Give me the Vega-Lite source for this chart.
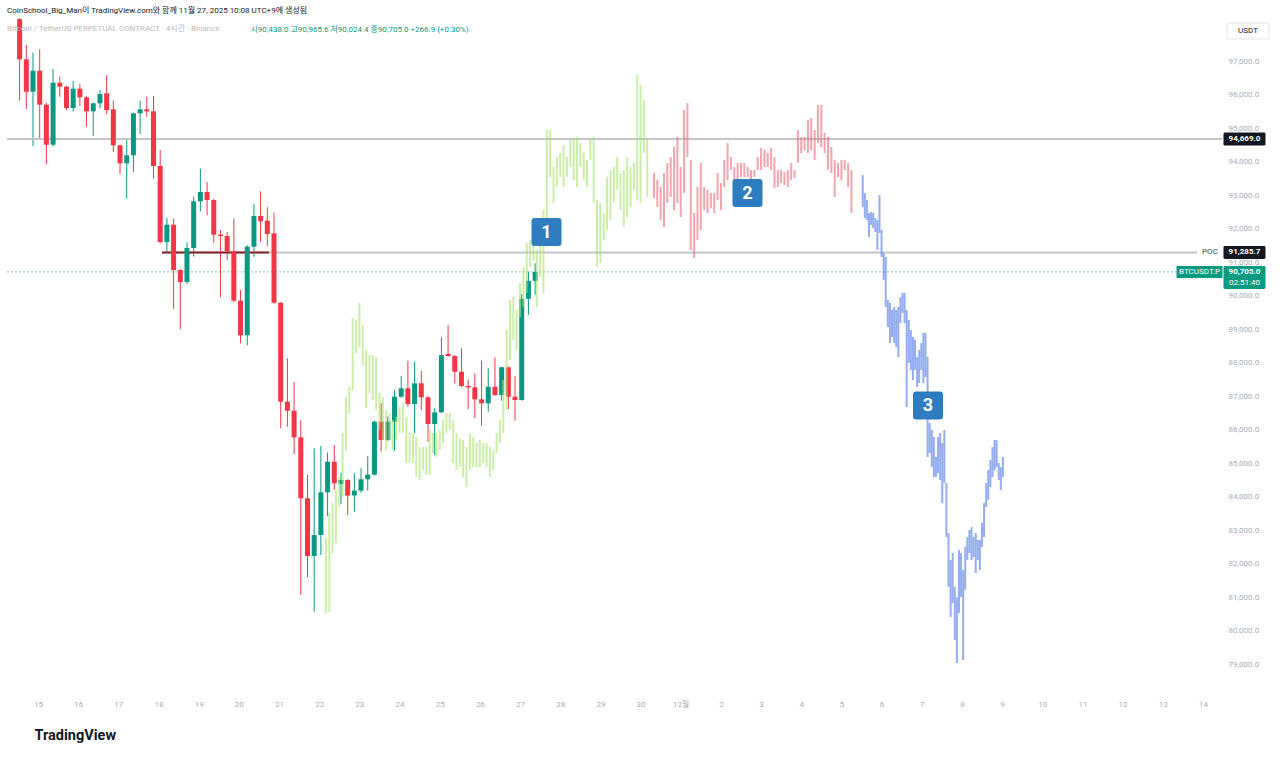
{
"$schema":"https://vega.github.io/schema/vega-lite/v6.json",
"width":1215,"height":677,
"autosize":{"type":"none"},
"padding":{"left":7,"top":18,"right":58,"bottom":62},
"background":"white",
"config":{"view":{"stroke":null},"font":"Roboto, Noto Sans CJK KR, sans-serif"},
"title":{"text":"CoinSchool_Big_Man이 TradingView.com와 함께 11월 27, 2025 10:08 UTC+9에 생성됨","subtitle":"\u00a0\u00a0Bitcoin / TetherUS PERPETUAL CONTRACT · 4시간 · Binance","anchor":"start","frame":"group","fontSize":8,"fontWeight":"normal","color":"#131722","subtitleFontSize":8,"subtitleColor":"#b8bbc2","subtitlePadding":10,"offset":-15},
"resolve":{"axis":{"y":"independent"}},
"datasets":{
"one":[{}],
"candles":[
{"t":"2025-11-14T13:00Z","o":98250,"h":98284,"l":95815,"c":97050},
{"t":"2025-11-14T17:00Z","o":97050,"h":97478,"l":95558,"c":96084},
{"t":"2025-11-14T21:00Z","o":96084,"h":97248,"l":94463,"c":96710},
{"t":"2025-11-15T01:00Z","o":96710,"h":97349,"l":94693,"c":95696},
{"t":"2025-11-15T05:00Z","o":95696,"h":95750,"l":93916,"c":94502},
{"t":"2025-11-15T09:00Z","o":94502,"h":96761,"l":94450,"c":96352},
{"t":"2025-11-15T13:00Z","o":96352,"h":96531,"l":95934,"c":96233},
{"t":"2025-11-15T17:00Z","o":96233,"h":96260,"l":95537,"c":95597},
{"t":"2025-11-15T21:00Z","o":95597,"h":96412,"l":95498,"c":96173},
{"t":"2025-11-16T01:00Z","o":96173,"h":96313,"l":95657,"c":95916},
{"t":"2025-11-16T05:00Z","o":95916,"h":95950,"l":95039,"c":95498},
{"t":"2025-11-16T09:00Z","o":95498,"h":95760,"l":94761,"c":95737},
{"t":"2025-11-16T13:00Z","o":95737,"h":96134,"l":95576,"c":96015},
{"t":"2025-11-16T17:00Z","o":96035,"h":96573,"l":95418,"c":95537},
{"t":"2025-11-16T21:00Z","o":95558,"h":95815,"l":94284,"c":94484},
{"t":"2025-11-17T01:00Z","o":94484,"h":94500,"l":93627,"c":93946},
{"t":"2025-11-17T05:00Z","o":93946,"h":94663,"l":92890,"c":94185},
{"t":"2025-11-17T09:00Z","o":94185,"h":95460,"l":93687,"c":95439},
{"t":"2025-11-17T13:00Z","o":95439,"h":95815,"l":94821,"c":95558},
{"t":"2025-11-17T17:00Z","o":95558,"h":95934,"l":95337,"c":95498},
{"t":"2025-11-17T21:00Z","o":95498,"h":95955,"l":93487,"c":93866},
{"t":"2025-11-18T01:00Z","o":93866,"h":94343,"l":91550,"c":91597},
{"t":"2025-11-18T05:00Z","o":91597,"h":92314,"l":91299,"c":92114},
{"t":"2025-11-18T09:00Z","o":92114,"h":92293,"l":89606,"c":90761},
{"t":"2025-11-18T13:00Z","o":90761,"h":90790,"l":88991,"c":90403},
{"t":"2025-11-18T17:00Z","o":90403,"h":91597,"l":90350,"c":91418},
{"t":"2025-11-18T21:00Z","o":91418,"h":92950,"l":91159,"c":92812},
{"t":"2025-11-19T01:00Z","o":92812,"h":93785,"l":92513,"c":93090},
{"t":"2025-11-19T05:00Z","o":93090,"h":93388,"l":92394,"c":92851},
{"t":"2025-11-19T09:00Z","o":92851,"h":92880,"l":91576,"c":91815},
{"t":"2025-11-19T13:00Z","o":91815,"h":91955,"l":89946,"c":91776},
{"t":"2025-11-19T17:00Z","o":91776,"h":91896,"l":91060,"c":91319},
{"t":"2025-11-19T21:00Z","o":91319,"h":92293,"l":89800,"c":89845},
{"t":"2025-11-20T01:00Z","o":89845,"h":90164,"l":88573,"c":88812},
{"t":"2025-11-20T05:00Z","o":88812,"h":91500,"l":88513,"c":91457},
{"t":"2025-11-20T09:00Z","o":91457,"h":92731,"l":91159,"c":92373},
{"t":"2025-11-20T13:00Z","o":92373,"h":93110,"l":91597,"c":92215},
{"t":"2025-11-20T17:00Z","o":92233,"h":92633,"l":91478,"c":91836},
{"t":"2025-11-20T21:00Z","o":91855,"h":92472,"l":89750,"c":89785},
{"t":"2025-11-21T01:00Z","o":89785,"h":89800,"l":86036,"c":86830},
{"t":"2025-11-21T05:00Z","o":86830,"h":88125,"l":86084,"c":86561},
{"t":"2025-11-21T09:00Z","o":86561,"h":87418,"l":85269,"c":85767},
{"t":"2025-11-21T13:00Z","o":85767,"h":86284,"l":81060,"c":83947},
{"t":"2025-11-21T17:00Z","o":83947,"h":84642,"l":81588,"c":82224},
{"t":"2025-11-21T21:00Z","o":82224,"h":85439,"l":80562,"c":82851},
{"t":"2025-11-22T01:00Z","o":82851,"h":85508,"l":82254,"c":84125},
{"t":"2025-11-22T05:00Z","o":84125,"h":85309,"l":83418,"c":85040},
{"t":"2025-11-22T09:00Z","o":85040,"h":85538,"l":84194,"c":84394},
{"t":"2025-11-22T13:00Z","o":84374,"h":84712,"l":83776,"c":84493},
{"t":"2025-11-22T17:00Z","o":84493,"h":84520,"l":83448,"c":84030},
{"t":"2025-11-22T21:00Z","o":84030,"h":84692,"l":83547,"c":84174},
{"t":"2025-11-23T01:00Z","o":84174,"h":84842,"l":84114,"c":84514},
{"t":"2025-11-23T05:00Z","o":84514,"h":85209,"l":84174,"c":84652},
{"t":"2025-11-23T09:00Z","o":84652,"h":86260,"l":84630,"c":86233},
{"t":"2025-11-23T13:00Z","o":86233,"h":86782,"l":85339,"c":85687},
{"t":"2025-11-23T17:00Z","o":85687,"h":86383,"l":85660,"c":86233},
{"t":"2025-11-23T21:00Z","o":86233,"h":87179,"l":85369,"c":86980},
{"t":"2025-11-24T01:00Z","o":86980,"h":87597,"l":86950,"c":87230},
{"t":"2025-11-24T05:00Z","o":87230,"h":88054,"l":86681,"c":86761},
{"t":"2025-11-24T09:00Z","o":86761,"h":88025,"l":85887,"c":87379},
{"t":"2025-11-24T13:00Z","o":87379,"h":87755,"l":86582,"c":86961},
{"t":"2025-11-24T17:00Z","o":86961,"h":86990,"l":85637,"c":86164},
{"t":"2025-11-24T21:00Z","o":86164,"h":86632,"l":85239,"c":86513},
{"t":"2025-11-25T01:00Z","o":86513,"h":88752,"l":86490,"c":88224},
{"t":"2025-11-25T05:00Z","o":88254,"h":89119,"l":88170,"c":88194},
{"t":"2025-11-25T09:00Z","o":88194,"h":88220,"l":87379,"c":87725},
{"t":"2025-11-25T13:00Z","o":87725,"h":88424,"l":87260,"c":87299},
{"t":"2025-11-25T17:00Z","o":87299,"h":87498,"l":86603,"c":87260},
{"t":"2025-11-25T21:00Z","o":87260,"h":87678,"l":86334,"c":86902},
{"t":"2025-11-26T01:00Z","o":86902,"h":88054,"l":86105,"c":86782},
{"t":"2025-11-26T05:00Z","o":86782,"h":87827,"l":86532,"c":87278},
{"t":"2025-11-26T09:00Z","o":87278,"h":88155,"l":87000,"c":87030},
{"t":"2025-11-26T13:00Z","o":87030,"h":87880,"l":86860,"c":87857},
{"t":"2025-11-26T17:00Z","o":87857,"h":87880,"l":86603,"c":86980},
{"t":"2025-11-26T21:00Z","o":86980,"h":87597,"l":86263,"c":86881},
{"t":"2025-11-27T01:00Z","o":86881,"h":90045,"l":86860,"c":89901},
{"t":"2025-11-27T05:00Z","o":89901,"h":90711,"l":89418,"c":90438},
{"t":"2025-11-27T09:00Z","o":90438,"h":90965.6,"l":90024.4,"c":90705}
],
"ghost":[
{"g":"A","t":"2025-11-22T04:00Z","h":82762,"l":80523},
{"g":"A","t":"2025-11-22T06:00Z","h":83508,"l":80553},
{"g":"A","t":"2025-11-22T08:00Z","h":83806,"l":82314},
{"g":"A","t":"2025-11-22T10:00Z","h":84194,"l":82612},
{"g":"A","t":"2025-11-22T12:00Z","h":84583,"l":83687},
{"g":"A","t":"2025-11-22T14:00Z","h":85896,"l":83986},
{"g":"A","t":"2025-11-22T16:00Z","h":86971,"l":85388},
{"g":"A","t":"2025-11-22T18:00Z","h":87269,"l":86493},
{"g":"A","t":"2025-11-22T20:00Z","h":89329,"l":87179},
{"g":"A","t":"2025-11-22T22:00Z","h":89269,"l":88284},
{"g":"A","t":"2025-11-23T00:00Z","h":89776,"l":88463},
{"g":"A","t":"2025-11-23T02:00Z","h":89120,"l":87926},
{"g":"A","t":"2025-11-23T04:00Z","h":88373,"l":86642},
{"g":"A","t":"2025-11-23T06:00Z","h":88224,"l":87090},
{"g":"A","t":"2025-11-23T08:00Z","h":88224,"l":86881},
{"g":"A","t":"2025-11-23T10:00Z","h":88165,"l":86582},
{"g":"A","t":"2025-11-23T12:00Z","h":87090,"l":85985},
{"g":"A","t":"2025-11-23T14:00Z","h":86971,"l":85687},
{"g":"A","t":"2025-11-23T16:00Z","h":86582,"l":85388},
{"g":"A","t":"2025-11-23T18:00Z","h":86493,"l":85687},
{"g":"A","t":"2025-11-23T20:00Z","h":86284,"l":85388},
{"g":"A","t":"2025-11-23T22:00Z","h":86374,"l":85687},
{"g":"A","t":"2025-11-24T00:00Z","h":86672,"l":85896},
{"g":"A","t":"2025-11-24T02:00Z","h":86791,"l":85896},
{"g":"A","t":"2025-11-24T04:00Z","h":86374,"l":85000},
{"g":"A","t":"2025-11-24T06:00Z","h":85896,"l":85000},
{"g":"A","t":"2025-11-24T08:00Z","h":85896,"l":85000},
{"g":"A","t":"2025-11-24T10:00Z","h":85777,"l":84583},
{"g":"A","t":"2025-11-24T12:00Z","h":85478,"l":84493},
{"g":"A","t":"2025-11-24T14:00Z","h":85478,"l":84791},
{"g":"A","t":"2025-11-24T16:00Z","h":85478,"l":84642},
{"g":"A","t":"2025-11-24T18:00Z","h":85985,"l":84642},
{"g":"A","t":"2025-11-24T20:00Z","h":85896,"l":85299},
{"g":"A","t":"2025-11-24T22:00Z","h":85896,"l":85180},
{"g":"A","t":"2025-11-25T00:00Z","h":85985,"l":85388},
{"g":"A","t":"2025-11-25T02:00Z","h":86284,"l":85597},
{"g":"A","t":"2025-11-25T04:00Z","h":86493,"l":85896},
{"g":"A","t":"2025-11-25T06:00Z","h":86493,"l":85985},
{"g":"A","t":"2025-11-25T08:00Z","h":86284,"l":85000},
{"g":"A","t":"2025-11-25T10:00Z","h":85896,"l":84791},
{"g":"A","t":"2025-11-25T12:00Z","h":85747,"l":84881},
{"g":"A","t":"2025-11-25T14:00Z","h":85687,"l":84583},
{"g":"A","t":"2025-11-25T16:00Z","h":85478,"l":84284},
{"g":"A","t":"2025-11-25T18:00Z","h":85896,"l":84791},
{"g":"A","t":"2025-11-25T20:00Z","h":85777,"l":84881},
{"g":"A","t":"2025-11-25T22:00Z","h":85597,"l":84881},
{"g":"A","t":"2025-11-26T00:00Z","h":85687,"l":84881},
{"g":"A","t":"2025-11-26T02:00Z","h":85597,"l":85000},
{"g":"A","t":"2025-11-26T04:00Z","h":85597,"l":84881},
{"g":"A","t":"2025-11-26T06:00Z","h":85478,"l":84583},
{"g":"A","t":"2025-11-26T08:00Z","h":85388,"l":84791},
{"g":"A","t":"2025-11-26T10:00Z","h":85896,"l":85299},
{"g":"A","t":"2025-11-26T12:00Z","h":86284,"l":85597},
{"g":"A","t":"2025-11-26T14:00Z","h":87478,"l":85896},
{"g":"A","t":"2025-11-26T16:00Z","h":88970,"l":86582},
{"g":"A","t":"2025-11-26T18:00Z","h":89866,"l":88075},
{"g":"A","t":"2025-11-26T20:00Z","h":89956,"l":88672},
{"g":"A","t":"2025-11-26T22:00Z","h":89567,"l":88373},
{"g":"A","t":"2025-11-27T00:00Z","h":90373,"l":89359},
{"g":"A","t":"2025-11-27T02:00Z","h":90851,"l":89657},
{"g":"A","t":"2025-11-27T04:00Z","h":91567,"l":90075},
{"g":"A","t":"2025-11-27T06:00Z","h":91657,"l":90851},
{"g":"A","t":"2025-11-27T08:00Z","h":91955,"l":91060},
{"g":"A","t":"2025-11-27T10:00Z","h":91358,"l":89657},
{"g":"A","t":"2025-11-27T12:00Z","h":92164,"l":90553},
{"g":"A","t":"2025-11-27T14:00Z","h":92552,"l":90075},
{"g":"A","t":"2025-11-27T16:00Z","h":94940,"l":91657},
{"g":"A","t":"2025-11-27T18:00Z","h":94940,"l":93538},
{"g":"A","t":"2025-11-27T20:00Z","h":93836,"l":92761},
{"g":"A","t":"2025-11-27T22:00Z","h":94135,"l":93239},
{"g":"A","t":"2025-11-28T00:00Z","h":94254,"l":93538},
{"g":"A","t":"2025-11-28T02:00Z","h":94493,"l":93239},
{"g":"A","t":"2025-11-28T04:00Z","h":94135,"l":93538},
{"g":"A","t":"2025-11-28T06:00Z","h":94642,"l":93836},
{"g":"A","t":"2025-11-28T08:00Z","h":94702,"l":93448},
{"g":"A","t":"2025-11-28T10:00Z","h":94732,"l":93239},
{"g":"A","t":"2025-11-28T12:00Z","h":94552,"l":93836},
{"g":"A","t":"2025-11-28T14:00Z","h":94254,"l":93448},
{"g":"A","t":"2025-11-28T16:00Z","h":94045,"l":93239},
{"g":"A","t":"2025-11-28T18:00Z","h":94702,"l":94045},
{"g":"A","t":"2025-11-28T20:00Z","h":94732,"l":92761},
{"g":"A","t":"2025-11-28T22:00Z","h":92851,"l":90851},
{"g":"A","t":"2025-11-29T00:00Z","h":92761,"l":90970},
{"g":"A","t":"2025-11-29T02:00Z","h":92463,"l":91657},
{"g":"A","t":"2025-11-29T04:00Z","h":93538,"l":91955},
{"g":"A","t":"2025-11-29T06:00Z","h":93746,"l":92254},
{"g":"A","t":"2025-11-29T08:00Z","h":93836,"l":92761},
{"g":"A","t":"2025-11-29T10:00Z","h":94135,"l":93149},
{"g":"A","t":"2025-11-29T12:00Z","h":93657,"l":92552},
{"g":"A","t":"2025-11-29T14:00Z","h":93746,"l":92045},
{"g":"A","t":"2025-11-29T16:00Z","h":94135,"l":92344},
{"g":"A","t":"2025-11-29T18:00Z","h":93836,"l":92642},
{"g":"A","t":"2025-11-29T20:00Z","h":93955,"l":93149},
{"g":"A","t":"2025-11-29T22:00Z","h":96582,"l":92851},
{"g":"A","t":"2025-11-30T00:00Z","h":96284,"l":92761},
{"g":"A","t":"2025-11-30T02:00Z","h":95836,"l":94254},
{"g":"A","t":"2025-11-30T04:00Z","h":94642,"l":92941},
{"g":"B","t":"2025-11-30T08:00Z","h":93657,"l":92911},
{"g":"B","t":"2025-11-30T10:00Z","h":93448,"l":92642},
{"g":"B","t":"2025-11-30T12:00Z","h":93239,"l":92254},
{"g":"B","t":"2025-11-30T14:00Z","h":93657,"l":92045},
{"g":"B","t":"2025-11-30T16:00Z","h":93955,"l":92761},
{"g":"B","t":"2025-11-30T18:00Z","h":94135,"l":92941},
{"g":"B","t":"2025-11-30T20:00Z","h":94433,"l":92552},
{"g":"B","t":"2025-11-30T22:00Z","h":94732,"l":92761},
{"g":"B","t":"2025-12-01T00:00Z","h":93836,"l":92344},
{"g":"B","t":"2025-12-01T02:00Z","h":95537,"l":93060},
{"g":"B","t":"2025-12-01T04:00Z","h":95746,"l":94135},
{"g":"B","t":"2025-12-01T06:00Z","h":94045,"l":91358},
{"g":"B","t":"2025-12-01T08:00Z","h":92463,"l":91120},
{"g":"B","t":"2025-12-01T10:00Z","h":93239,"l":91657},
{"g":"B","t":"2025-12-01T12:00Z","h":93955,"l":91955},
{"g":"B","t":"2025-12-01T14:00Z","h":93239,"l":92552},
{"g":"B","t":"2025-12-01T16:00Z","h":93149,"l":92463},
{"g":"B","t":"2025-12-01T18:00Z","h":93060,"l":92612},
{"g":"B","t":"2025-12-01T20:00Z","h":93060,"l":92463},
{"g":"B","t":"2025-12-01T22:00Z","h":93657,"l":92851},
{"g":"B","t":"2025-12-02T00:00Z","h":93358,"l":92552},
{"g":"B","t":"2025-12-02T02:00Z","h":94045,"l":93239},
{"g":"B","t":"2025-12-02T04:00Z","h":94552,"l":93448},
{"g":"B","t":"2025-12-02T06:00Z","h":94135,"l":93746},
{"g":"B","t":"2025-12-02T08:00Z","h":93836,"l":93358},
{"g":"B","t":"2025-12-02T10:00Z","h":93955,"l":93448},
{"g":"B","t":"2025-12-02T12:00Z","h":93955,"l":93538},
{"g":"B","t":"2025-12-02T14:00Z","h":93955,"l":93538},
{"g":"B","t":"2025-12-02T16:00Z","h":93836,"l":93538},
{"g":"B","t":"2025-12-02T18:00Z","h":93746,"l":93448},
{"g":"B","t":"2025-12-02T20:00Z","h":93746,"l":93538},
{"g":"B","t":"2025-12-02T22:00Z","h":94135,"l":93746},
{"g":"B","t":"2025-12-03T00:00Z","h":94403,"l":93746},
{"g":"B","t":"2025-12-03T02:00Z","h":94343,"l":93836},
{"g":"B","t":"2025-12-03T04:00Z","h":94254,"l":93836},
{"g":"B","t":"2025-12-03T06:00Z","h":94403,"l":93746},
{"g":"B","t":"2025-12-03T08:00Z","h":94135,"l":93209},
{"g":"B","t":"2025-12-03T10:00Z","h":93746,"l":93239},
{"g":"B","t":"2025-12-03T12:00Z","h":93746,"l":93358},
{"g":"B","t":"2025-12-03T14:00Z","h":93687,"l":93299},
{"g":"B","t":"2025-12-03T16:00Z","h":93746,"l":93239},
{"g":"B","t":"2025-12-03T18:00Z","h":93955,"l":93448},
{"g":"B","t":"2025-12-03T20:00Z","h":93746,"l":93508},
{"g":"B","t":"2025-12-03T22:00Z","h":94940,"l":93955},
{"g":"B","t":"2025-12-04T00:00Z","h":94732,"l":94254},
{"g":"B","t":"2025-12-04T02:00Z","h":94732,"l":94343},
{"g":"B","t":"2025-12-04T04:00Z","h":95239,"l":94254},
{"g":"B","t":"2025-12-04T06:00Z","h":95299,"l":94343},
{"g":"B","t":"2025-12-04T08:00Z","h":94940,"l":94045},
{"g":"B","t":"2025-12-04T10:00Z","h":95687,"l":94552},
{"g":"B","t":"2025-12-04T12:00Z","h":95687,"l":94433},
{"g":"B","t":"2025-12-04T14:00Z","h":94851,"l":94254},
{"g":"B","t":"2025-12-04T16:00Z","h":94732,"l":93746},
{"g":"B","t":"2025-12-04T18:00Z","h":94433,"l":93657},
{"g":"B","t":"2025-12-04T20:00Z","h":94045,"l":92941},
{"g":"B","t":"2025-12-04T22:00Z","h":93955,"l":93538},
{"g":"B","t":"2025-12-05T00:00Z","h":94045,"l":93448},
{"g":"B","t":"2025-12-05T02:00Z","h":94045,"l":93746},
{"g":"B","t":"2025-12-05T04:00Z","h":93955,"l":93239},
{"g":"B","t":"2025-12-05T06:00Z","h":93746,"l":92463},
{"g":"C","t":"2025-12-05T12:45Z","h":93597,"l":92642},
{"g":"C","t":"2025-12-05T14:00Z","h":93060,"l":92314},
{"g":"C","t":"2025-12-05T15:15Z","h":92851,"l":92254},
{"g":"C","t":"2025-12-05T16:30Z","h":92463,"l":91747},
{"g":"C","t":"2025-12-05T17:45Z","h":92493,"l":92105},
{"g":"C","t":"2025-12-05T19:00Z","h":92463,"l":92015},
{"g":"C","t":"2025-12-05T20:15Z","h":92314,"l":91896},
{"g":"C","t":"2025-12-05T21:30Z","h":92254,"l":91358},
{"g":"C","t":"2025-12-05T22:45Z","h":93000,"l":91866},
{"g":"C","t":"2025-12-06T00:00Z","h":91955,"l":91150},
{"g":"C","t":"2025-12-06T01:15Z","h":91269,"l":90463},
{"g":"C","t":"2025-12-06T02:30Z","h":91150,"l":89657},
{"g":"C","t":"2025-12-06T03:45Z","h":89866,"l":89060},
{"g":"C","t":"2025-12-06T05:00Z","h":89776,"l":88582},
{"g":"C","t":"2025-12-06T06:15Z","h":89567,"l":88762},
{"g":"C","t":"2025-12-06T07:30Z","h":89657,"l":88582},
{"g":"C","t":"2025-12-06T08:45Z","h":89567,"l":88463},
{"g":"C","t":"2025-12-06T10:00Z","h":89657,"l":88165},
{"g":"C","t":"2025-12-06T11:15Z","h":89956,"l":89179},
{"g":"C","t":"2025-12-06T12:30Z","h":90075,"l":89478},
{"g":"C","t":"2025-12-06T13:45Z","h":90075,"l":89179},
{"g":"C","t":"2025-12-06T15:00Z","h":89567,"l":86672},
{"g":"C","t":"2025-12-06T16:15Z","h":89269,"l":87985},
{"g":"C","t":"2025-12-06T17:30Z","h":88970,"l":87776},
{"g":"C","t":"2025-12-06T18:45Z","h":88762,"l":87478},
{"g":"C","t":"2025-12-06T20:00Z","h":88672,"l":87776},
{"g":"C","t":"2025-12-06T21:15Z","h":88165,"l":87269},
{"g":"C","t":"2025-12-06T22:30Z","h":88373,"l":87388},
{"g":"C","t":"2025-12-06T23:45Z","h":88582,"l":87776},
{"g":"C","t":"2025-12-07T01:00Z","h":88881,"l":87388},
{"g":"C","t":"2025-12-07T02:15Z","h":88881,"l":87568},
{"g":"C","t":"2025-12-07T03:30Z","h":88165,"l":85180},
{"g":"C","t":"2025-12-07T04:45Z","h":86194,"l":85299},
{"g":"C","t":"2025-12-07T06:00Z","h":85985,"l":84881},
{"g":"C","t":"2025-12-07T07:15Z","h":85777,"l":84583},
{"g":"C","t":"2025-12-07T08:30Z","h":85180,"l":84583},
{"g":"C","t":"2025-12-07T09:45Z","h":85777,"l":84702},
{"g":"C","t":"2025-12-07T11:00Z","h":85896,"l":84493},
{"g":"C","t":"2025-12-07T12:15Z","h":85597,"l":83806},
{"g":"C","t":"2025-12-07T13:30Z","h":85985,"l":84403},
{"g":"C","t":"2025-12-07T14:45Z","h":84403,"l":82792},
{"g":"C","t":"2025-12-07T16:00Z","h":82911,"l":81299},
{"g":"C","t":"2025-12-07T17:15Z","h":82105,"l":80404},
{"g":"C","t":"2025-12-07T18:30Z","h":82314,"l":80822},
{"g":"C","t":"2025-12-07T19:45Z","h":81299,"l":79717},
{"g":"C","t":"2025-12-07T21:00Z","h":81001,"l":79030},
{"g":"C","t":"2025-12-07T22:15Z","h":82403,"l":80523},
{"g":"C","t":"2025-12-07T23:30Z","h":82314,"l":81001},
{"g":"C","t":"2025-12-08T00:45Z","h":81806,"l":79120},
{"g":"C","t":"2025-12-08T02:00Z","h":82493,"l":81209},
{"g":"C","t":"2025-12-08T03:15Z","h":82792,"l":82105},
{"g":"C","t":"2025-12-08T04:30Z","h":83000,"l":82314},
{"g":"C","t":"2025-12-08T05:45Z","h":83090,"l":82105},
{"g":"C","t":"2025-12-08T07:00Z","h":82792,"l":82195},
{"g":"C","t":"2025-12-08T08:15Z","h":82911,"l":81717},
{"g":"C","t":"2025-12-08T09:30Z","h":82702,"l":82105},
{"g":"C","t":"2025-12-08T10:45Z","h":82702,"l":81806},
{"g":"C","t":"2025-12-08T12:00Z","h":83209,"l":82493},
{"g":"C","t":"2025-12-08T13:15Z","h":83806,"l":82792},
{"g":"C","t":"2025-12-08T14:30Z","h":84403,"l":83687},
{"g":"C","t":"2025-12-08T15:45Z","h":84791,"l":83896},
{"g":"C","t":"2025-12-08T17:00Z","h":85090,"l":84284},
{"g":"C","t":"2025-12-08T18:15Z","h":85478,"l":84583},
{"g":"C","t":"2025-12-08T19:30Z","h":85687,"l":84791},
{"g":"C","t":"2025-12-08T20:45Z","h":85687,"l":84881},
{"g":"C","t":"2025-12-08T22:00Z","h":85000,"l":84493},
{"g":"C","t":"2025-12-08T23:15Z","h":84881,"l":84194},
{"g":"C","t":"2025-12-09T00:30Z","h":85180,"l":84583}
],
"notes":[
{"n":"1","t":"2025-11-27T15:49Z","p":91896},
{"n":"2","t":"2025-12-02T15:53Z","p":93060},
{"n":"3","t":"2025-12-07T03:44Z","p":86717}
]
},
"layer":[
{"data":{"name":"candles"},
 "mark":{"type":"rule","strokeWidth":1},
 "encoding":{
  "x":{"field":"t","type":"temporal","axis":null},
  "y":{"field":"l","type":"quantitative","scale":{"domain":[78075,98284],"nice":false,"zero":false,"padding":0},
   "axis":{"orient":"right","tickCount":20,"format":",.1f","labelExpr":"datum.value > 97500 ? '' : datum.label","ticks":false,"domain":false,"grid":false,"labelColor":"#a9acb4","labelFontSize":8,"labelPadding":6,"labelAlign":"left","labelBaseline":"middle","title":""}},
  "y2":{"field":"h"},
  "color":{"condition":{"test":"datum.c >= datum.o","value":"#089981"},"value":"#f23645"}}},
{"data":{"name":"one"},"mark":{"type":"rule","color":"#c3c5cb","strokeWidth":2},
 "encoding":{"y":{"datum":94669,"type":"quantitative","axis":null}}},
{"data":{"name":"one"},"mark":{"type":"rule","color":"#c3c5cb","strokeWidth":2},
 "encoding":{"x":{"datum":{"year":2025,"month":11,"date":18,"hours":2,"minutes":5,"utc":true},"type":"temporal","axis":null},
  "x2":{"datum":{"year":2025,"month":12,"date":13,"hours":20,"minutes":30,"utc":true}},
  "y":{"datum":91285.7,"type":"quantitative","axis":null}}},
{"data":{"name":"one"},"mark":{"type":"rule","color":"#8e1f22","strokeWidth":2},
 "encoding":{"x":{"datum":{"year":2025,"month":11,"date":18,"hours":2,"minutes":5,"utc":true},"type":"temporal","axis":null},
  "x2":{"datum":{"year":2025,"month":11,"date":20,"hours":18,"minutes":0,"utc":true}},
  "y":{"datum":91285.7,"type":"quantitative","axis":null}}},
{"data":{"name":"one"},"mark":{"type":"rule","color":"#089981","strokeWidth":1,"opacity":0.55,"strokeDash":[2,2]},
 "encoding":{"x":{"datum":{"year":2025,"month":11,"date":14,"hours":5,"minutes":28,"utc":true},"type":"temporal","axis":null},
  "x2":{"datum":{"year":2025,"month":12,"date":13,"hours":7,"minutes":55,"utc":true}},
  "y":{"datum":90705,"type":"quantitative","axis":null}}},
{"data":{"name":"candles"},
 "mark":{"type":"bar","size":5},
 "encoding":{
  "x":{"field":"t","type":"temporal","scale":{"type":"utc","padding":0,"domain":[{"year":2025,"month":11,"date":14,"hours":5,"minutes":28,"utc":true},{"year":2025,"month":12,"date":14,"hours":11,"minutes":24,"utc":true}]},
   "axis":{"orient":"bottom","tickCount":{"interval":"day","step":1},"labelExpr":"utcdate(datum.value) == 1 ? '12월' : utcFormat(datum.value, '%-d')","ticks":false,"domain":false,"grid":false,"labelColor":"#a9acb4","labelFontSize":8,"labelPadding":5,"labelOverlap":false,"labelFlush":false,
    "title":"TradingView","titleX":27,"titleY":40,"titleAlign":"left","titleBaseline":"middle","titleFontSize":14.5,"titleFontWeight":"bold","titleColor":"#131722"}},
  "y":{"field":"o","type":"quantitative","axis":null},
  "y2":{"field":"c"},
  "color":{"condition":{"test":"datum.c >= datum.o","value":"#089981"},"value":"#f23645"}}},
{"data":{"name":"ghost"},
 "mark":{"type":"rule","strokeWidth":2,"opacity":0.6},
 "encoding":{
  "x":{"field":"t","type":"temporal",
   "axis":{"orient":"top","labels":false,"ticks":false,"domain":false,"grid":false,"title":"시90,438.0  고90,965.6  저90,024.4  종90,705.0  +266.9 (+0.30%)","titleX":243,"titleY":11,"titleAlign":"left","titleBaseline":"middle","titleColor":"#089981","titleFontSize":8,"titleFontWeight":"normal"}},
  "y":{"field":"l","type":"quantitative","axis":null},
  "y2":{"field":"h"},
  "color":{"field":"g","type":"nominal","scale":{"domain":["A","B","C"],"range":["#a6e36a","#ee6676","#4d74e8"]},"legend":null}}},
{"data":{"name":"notes"},
 "mark":{"type":"point","shape":"M-0.8,-0.933L0.8,-0.933Q1,-0.933 1,-0.733L1,0.733Q1,0.933 0.8,0.933L-0.8,0.933Q-1,0.933 -1,0.733L-1,-0.733Q-1,-0.933 -0.8,-0.933Z","size":900,"filled":true,"color":"#2e7dc0","opacity":1},
 "encoding":{"x":{"field":"t","type":"temporal","axis":null},"y":{"field":"p","type":"quantitative","axis":null}}},
{"data":{"name":"notes"},
 "mark":{"type":"text","color":"white","fontSize":18,"fontWeight":"bold","baseline":"middle","align":"center","dy":1},
 "encoding":{"x":{"field":"t","type":"temporal","axis":null},"y":{"field":"p","type":"quantitative","axis":null},"text":{"field":"n"}}},
{"data":{"name":"one"},"mark":{"type":"point","shape":"M-0.93,-0.31L0.93,-0.31Q1,-0.31 1,-0.24L1,0.24Q1,0.31 0.93,0.31L-0.93,0.31Q-1,0.31 -1,0.24L-1,-0.24Q-1,-0.31 -0.93,-0.31Z","size":1764,"filled":true,"color":"#131722","opacity":1},
 "encoding":{"x":{"datum":{"year":2025,"month":12,"date":15,"hours":0,"minutes":50,"utc":true},"type":"temporal","axis":null},"y":{"datum":94669,"type":"quantitative","axis":null}}},
{"data":{"name":"one"},"mark":{"type":"text","color":"white","fontSize":8,"fontWeight":"bold","baseline":"middle","align":"center","text":"94,669.0"},
 "encoding":{"x":{"datum":{"year":2025,"month":12,"date":15,"hours":0,"minutes":50,"utc":true},"type":"temporal","axis":null},"y":{"datum":94669,"type":"quantitative","axis":null}}},
{"data":{"name":"one"},"mark":{"type":"point","shape":"M-0.93,-0.31L0.93,-0.31Q1,-0.31 1,-0.24L1,0.24Q1,0.31 0.93,0.31L-0.93,0.31Q-1,0.31 -1,0.24L-1,-0.24Q-1,-0.31 -0.93,-0.31Z","size":1764,"filled":true,"color":"#131722","opacity":1},
 "encoding":{"x":{"datum":{"year":2025,"month":12,"date":15,"hours":0,"minutes":50,"utc":true},"type":"temporal","axis":null},"y":{"datum":91285.7,"type":"quantitative","axis":null}}},
{"data":{"name":"one"},"mark":{"type":"text","color":"white","fontSize":8,"fontWeight":"bold","baseline":"middle","align":"center","text":"91,285.7"},
 "encoding":{"x":{"datum":{"year":2025,"month":12,"date":15,"hours":0,"minutes":50,"utc":true},"type":"temporal","axis":null},"y":{"datum":91285.7,"type":"quantitative","axis":null}}},
{"data":{"name":"one"},"mark":{"type":"text","color":"#434651","fontSize":8,"baseline":"middle","align":"center","text":"POC"},
 "encoding":{"x":{"datum":{"year":2025,"month":12,"date":14,"hours":4,"minutes":12,"utc":true},"type":"temporal","axis":null},"y":{"datum":91285.7,"type":"quantitative","axis":null}}},
{"data":{"name":"one"},"mark":{"type":"point","shape":"M-1,-0.26L1,-0.26L1,0.26L-1,0.26Z","size":2116,"filled":true,"color":"#089981","opacity":1},
 "encoding":{"x":{"datum":{"year":2025,"month":12,"date":13,"hours":21,"minutes":58,"utc":true},"type":"temporal","axis":null},"y":{"datum":90705,"type":"quantitative","axis":null}}},
{"data":{"name":"one"},"mark":{"type":"text","color":"white","fontSize":8,"baseline":"middle","align":"center","text":"BTCUSDT.P"},
 "encoding":{"x":{"datum":{"year":2025,"month":12,"date":13,"hours":21,"minutes":58,"utc":true},"type":"temporal","axis":null},"y":{"datum":90705,"type":"quantitative","axis":null}}},
{"data":{"name":"one"},"mark":{"type":"point","shape":"M-0.93,-0.548L0.93,-0.548Q1,-0.548 1,-0.478L1,0.478Q1,0.548 0.93,0.548L-0.93,0.548Q-1,0.548 -1,0.478L-1,-0.478Q-1,-0.548 -0.93,-0.548Z","size":1764,"filled":true,"color":"#089981","opacity":1},
 "encoding":{"x":{"datum":{"year":2025,"month":12,"date":15,"hours":0,"minutes":50,"utc":true},"type":"temporal","axis":null},"y":{"datum":90538,"type":"quantitative","axis":null}}},
{"data":{"name":"one"},"mark":{"type":"text","color":"white","fontSize":8,"fontWeight":"bold","baseline":"middle","align":"center","text":"90,705.0"},
 "encoding":{"x":{"datum":{"year":2025,"month":12,"date":15,"hours":0,"minutes":50,"utc":true},"type":"temporal","axis":null},"y":{"datum":90705,"type":"quantitative","axis":null}}},
{"data":{"name":"one"},"mark":{"type":"text","color":"white","fontSize":8,"baseline":"middle","align":"center","text":"02:51:40"},
 "encoding":{"x":{"datum":{"year":2025,"month":12,"date":15,"hours":0,"minutes":50,"utc":true},"type":"temporal","axis":null},"y":{"datum":90373,"type":"quantitative","axis":null}}},
{"data":{"name":"one"},"mark":{"type":"point","shape":"M-0.93,-0.38L0.93,-0.38Q1,-0.38 1,-0.31L1,0.31Q1,0.38 0.93,0.38L-0.93,0.38Q-1,0.38 -1,0.31L-1,-0.31Q-1,-0.38 -0.93,-0.38Z","size":1764,"filled":true,"color":"white","stroke":"#e0e3eb","strokeWidth":1,"opacity":1},
 "encoding":{"x":{"datum":{"year":2025,"month":12,"date":15,"hours":2,"minutes":57,"utc":true},"type":"temporal","axis":null},"y":{"datum":97896,"type":"quantitative","axis":null}}},
{"data":{"name":"one"},"mark":{"type":"text","color":"#131722","fontSize":8,"baseline":"middle","align":"center","text":"USDT"},
 "encoding":{"x":{"datum":{"year":2025,"month":12,"date":15,"hours":2,"minutes":57,"utc":true},"type":"temporal","axis":null},"y":{"datum":97896,"type":"quantitative","axis":null}}}
]
}
